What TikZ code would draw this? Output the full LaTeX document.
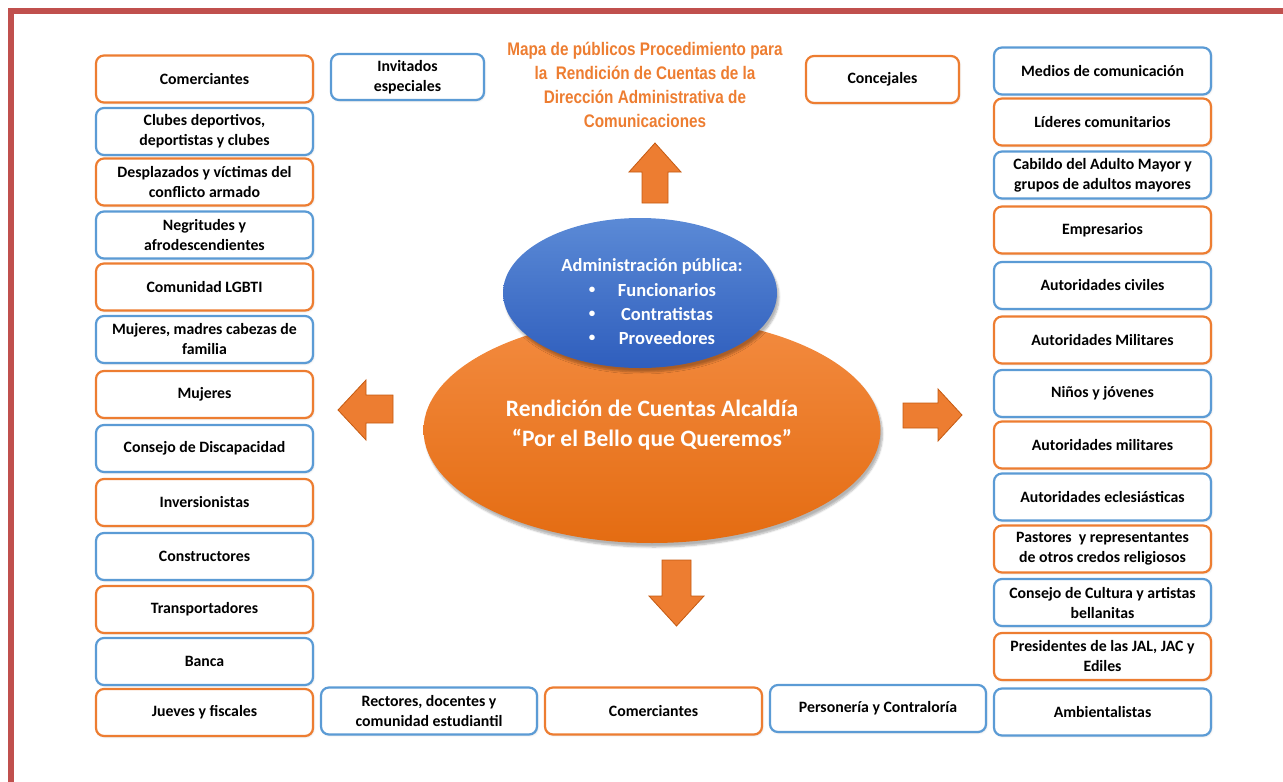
\documentclass[tikz,border=0pt]{standalone}
\usepackage{fontspec}
\setmainfont{Carlito}
\newfontfamily\narrowfont[FakeStretch=0.84]{Liberation Sans}
\usetikzlibrary{shapes.geometric,shadows.blur}
\definecolor{borange}{HTML}{ED7D31}
\definecolor{bblue}{HTML}{5B9BD5}
\definecolor{framered}{HTML}{C0504D}
\definecolor{arrowedge}{HTML}{C55A11}
\definecolor{ortop}{HTML}{F38B40}
\definecolor{orbot}{HTML}{E46C12}
\definecolor{bltop}{HTML}{5B8AD6}
\definecolor{blbot}{HTML}{2F5EBD}
\tikzset{
  pbox/.style={draw, rounded corners=8pt, line width=2.2pt, fill=white, align=flush center,
    text width=#1, inner xsep=3pt, inner ysep=2pt, minimum height=47pt,
    font=\bfseries\fontsize{15.8}{20}\selectfont, text=black,
    blur shadow={shadow xshift=0.8pt, shadow yshift=-1pt, shadow blur steps=3, shadow opacity=15}},
  obox/.style={pbox=#1, draw=borange},
  bbox/.style={pbox=#1, draw=bblue},
  obox/.default=211pt,
  bbox/.default=211pt,
  blockarrow/.style={fill=borange, draw=arrowedge, line width=0.8pt, line join=miter},
  ewhite/.style={text=white, font=\bfseries\fontsize{18.5}{20}\selectfont}
}
\begin{document}
\begin{tikzpicture}[x=1pt,y=-1pt]
\useasboundingbox (0,0) rectangle (1283,782);
% frame
\fill[framered] (8,8) rectangle (1283,14);
\fill[framered] (8,8) rectangle (14,782);

% title
\node (title) at (645,85) [align=center, text=borange,
  font=\narrowfont\bfseries\fontsize{18.2}{24}\selectfont]
  {Mapa de públicos Procedimiento para\\la\ \ Rendición de Cuentas de la\\Dirección Administrativa de\\Comunicaciones};

% arrows
\draw[blockarrow] (642,203) -- (642,172) -- (629,172) -- (655,143) -- (681,172) -- (668,172) -- (668,203) -- cycle;
\draw[blockarrow] (662,560) -- (691,560) -- (691,596) -- (704,596) -- (676.5,626) -- (649,596) -- (662,596) -- cycle;
\draw[blockarrow] (393,395) -- (366,395) -- (366,380) -- (338,410) -- (366,440) -- (366,423) -- (393,423) -- cycle;
\draw[blockarrow] (903,403) -- (938,403) -- (938,389) -- (962,415) -- (938,441) -- (938,428) -- (903,428) -- cycle;

% ellipses
\node (rendicion) at (652,430) [ellipse, minimum width=457pt, minimum height=226pt,
  top color=ortop, bottom color=orbot, draw=none,
  blur shadow={shadow xshift=2pt, shadow yshift=-4pt, shadow blur steps=6, shadow opacity=30}] {};
\node (rendtxt) at (652,425) [align=center, text=white, font=\bfseries\fontsize{23.5}{30}\selectfont]
  {Rendición de Cuentas Alcaldía\\“Por el Bello que Queremos”};

\node (admin) at (640,293) [ellipse, minimum width=274pt, minimum height=150pt,
  top color=bltop, bottom color=blbot, draw=none,
  blur shadow={shadow xshift=2pt, shadow yshift=-4pt, shadow blur steps=6, shadow opacity=30}] {};
\node (admintitle) at (652,266) [ewhite] {Administración pública:};
\node (b1) at (592,290) [ewhite, font=\bfseries\fontsize{13}{16}\selectfont] {•};
\node (b2) at (592,314) [ewhite, font=\bfseries\fontsize{13}{16}\selectfont] {•};
\node (b3) at (592,338) [ewhite, font=\bfseries\fontsize{13}{16}\selectfont] {•};
\node (w1) at (667,290) [ewhite] {Funcionarios};
\node (w2) at (667,314) [ewhite] {Contratistas};
\node (w3) at (667,338) [ewhite] {Proveedores};

% top boxes
\node (invitados) at (407.5,77) [bbox=147pt, minimum height=46pt] {Invitados\\especiales};
\node (concejales) at (882.5,79.5) [obox=147pt] {Concejales};

% left column
\node (l1) at (204.5,79) [obox] {Comerciantes};
\node (l2) at (204.5,131.5) [bbox] {Clubes deportivos,\\deportistas y clubes};
\node (l3) at (204.5,182) [obox] {Desplazados y víctimas del\\conflicto armado};
\node (l4) at (204.5,235) [bbox] {Negritudes y\\afrodescendientes};
\node (l5) at (204.5,287) [obox] {Comunidad LGBTI};
\node (l6) at (204.5,339.5) [bbox] {Mujeres, madres cabezas de\\familia};
\node (l7) at (204.5,394.5) [obox] {Mujeres};
\node (l8) at (204.5,448.5) [bbox] {Consejo de Discapacidad};
\node (l9) at (204.5,502.5) [obox] {Inversionistas};
\node (l10) at (204.5,556.5) [bbox] {Constructores};
\node (l11) at (204.5,609.5) [obox] {Transportadores};
\node (l12) at (204.5,661.5) [bbox] {Banca};
\node (l13) at (204.5,712.5) [obox] {Jueves y fiscales};

% right column
\node (r1) at (1102.5,71) [bbox] {Medios de comunicación};
\node (r2) at (1102.5,122) [obox] {Líderes comunitarios};
\node (r3) at (1102.5,175) [bbox] {Cabildo del Adulto Mayor y\\grupos de adultos mayores};
\node (r4) at (1102.5,230) [obox] {Empresarios};
\node (r5) at (1102.5,285.5) [bbox] {Autoridades civiles};
\node (r6) at (1102.5,340) [obox] {Autoridades Militares};
\node (r7) at (1102.5,393.5) [bbox] {Niños y jóvenes};
\node (r8) at (1102.5,445) [obox] {Autoridades militares};
\node (r9) at (1102.5,497) [bbox] {Autoridades eclesiásticas};
\node (r10) at (1102.5,549) [obox] {Pastores\ \ y representantes\\de otros credos religiosos};
\node (r11) at (1102.5,602.5) [bbox] {Consejo de Cultura y artistas\\bellanitas};
\node (r12) at (1102.5,656.5) [obox] {Presidentes de las JAL, JAC y\\Ediles};
\node (r13) at (1102.5,712) [bbox] {Ambientalistas};

% bottom row
\node (rectores) at (429,711) [bbox=210pt] {Rectores, docentes y\\comunidad estudiantil};
\node (comerb) at (653.5,711) [obox] {Comerciantes};
\node (personeria) at (878,708.5) [bbox=210pt] {Personería y Contraloría};
\end{tikzpicture}
\end{document}
